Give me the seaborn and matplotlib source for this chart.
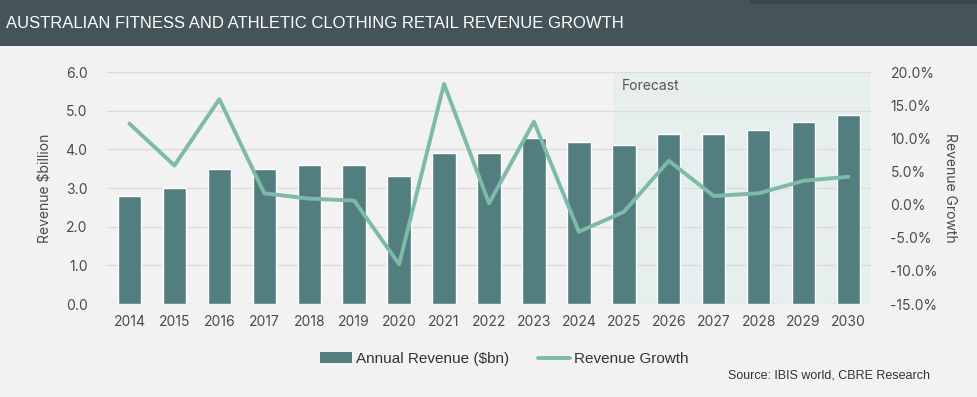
import matplotlib
matplotlib.use("Agg")
import matplotlib.pyplot as plt
import seaborn as sns
import pandas as pd
from matplotlib.patches import Patch
from matplotlib.lines import Line2D
from matplotlib.ticker import FuncFormatter

# Donnees
years = ["2014", "2015", "2016", "2017", "2018", "2019", "2020", "2021", "2022",
         "2023", "2024", "2025", "2026", "2027", "2028", "2029", "2030"]
revenue = [2.8, 3.0, 3.5, 3.5, 3.6, 3.6, 3.3, 3.9, 3.9,
           4.3, 4.2, 4.1, 4.4, 4.4, 4.5, 4.7, 4.9]
growth = [12.2, 5.9, 15.9, 1.7, 0.9, 0.6, -9.0, 18.2, 0.2,
          12.5, -4.1, -1.1, 6.6, 1.3, 1.7, 3.6, 4.2]
left_ticks = [0, 1, 2, 3, 4, 5, 6]
right_ticks = [-15, -10, -5, 0, 5, 10, 15, 20]

BAR = "#527e7f"
LINE = "#7dbaa7"
HEADER = "#445458"
BG = "#f2f2f2"
SHADE = "#e6efee"
TXT = "#4a4a4a"

df = pd.DataFrame({"year": years, "revenue": revenue, "growth": growth})
df["pos"] = range(len(df))

sns.set_style("white")
plt.rcParams["font.family"] = ["Inter", "DejaVu Sans"]
narrow = ["Liberation Sans Narrow", "Liberation Sans", "DejaVu Sans"]

fig = plt.figure(figsize=(9.78, 3.97), dpi=100, facecolor=BG)

# bandeau titre
fig.patches.append(plt.Rectangle((0, 1 - 46 / 397), 1, 46 / 397, transform=fig.transFigure,
                                 facecolor=HEADER, edgecolor="none", zorder=0))
fig.patches.append(plt.Rectangle((750 / 978, 1 - 4 / 397), 1, 4 / 397, transform=fig.transFigure,
                                 facecolor="#3a4749", edgecolor="none", zorder=0))
fig.text(6 / 978, 1 - 23 / 397, "AUSTRALIAN FITNESS AND ATHLETIC CLOTHING RETAIL REVENUE GROWTH",
         color="white", fontsize=12, family=narrow, va="center", ha="left")

ax = fig.add_axes([107 / 978, 1 - 304 / 397, 764 / 978, 232 / 397])
ax.set_facecolor(BG)

# zone prevision
ax.axvspan(10.77, 16.5, ymin=0, ymax=1, color=SHADE, zorder=0, lw=0)
ax.text(10.95, 5.65, "Forecast", color="#555555", fontsize=10, va="center", ha="left")

sns.barplot(data=df, x="year", y="revenue", color=BAR, width=0.52, saturation=1, ax=ax, zorder=2)

ax.set_ylim(0, 6)
ax.set_xlim(-0.5, 16.5)
ax.set_yticks(left_ticks)
ax.yaxis.set_major_formatter(FuncFormatter(lambda v, p: f"{v:.1f}"))
ax.grid(axis="y", color="#dcdcdc", lw=1)
ax.set_axisbelow(True)
for s in ax.spines.values():
    s.set_visible(False)
ax.tick_params(axis="both", length=0, labelsize=10, colors=TXT, pad=8)
ax.tick_params(axis="y", pad=14)
ax.set_xlabel("")
ax.set_ylabel("Revenue $billion", fontsize=10, color=TXT, labelpad=10)

ax2 = ax.twinx()
sns.lineplot(data=df, x="pos", y="growth", color=LINE, lw=2.8, ax=ax2, zorder=3)
ax2.set_ylim(-15, 20)
ax2.set_xlim(-0.5, 16.5)
ax2.set_yticks(right_ticks)
ax2.yaxis.set_major_formatter(FuncFormatter(lambda v, p: f"{v:.1f}%"))
for s in ax2.spines.values():
    s.set_visible(False)
ax2.tick_params(axis="y", length=0, labelsize=10, colors=TXT, pad=14)
ax2.set_xlabel("")
ax2.set_ylabel("Revenue Growth", fontsize=10, color=TXT, rotation=270, labelpad=14)

handles = [Patch(facecolor=BAR, edgecolor="none"),
           Line2D([0], [0], color=LINE, lw=2.8)]
fig.legend(handles, ["Annual Revenue ($bn)", "Revenue Growth"], loc="center",
           bbox_to_anchor=(504 / 978, 1 - 359 / 397), ncol=2, frameon=False,
           prop={"family": narrow, "size": 11}, labelcolor="#333333",
           handlelength=2.1, handletextpad=0.25, columnspacing=1.9)

fig.text(930 / 978, 1 - 376 / 397, "Source: IBIS world, CBRE Research", ha="right", va="center",
         fontsize=9, family=narrow, color="#333333")

fig.savefig("out.png", dpi=100, facecolor=BG)
